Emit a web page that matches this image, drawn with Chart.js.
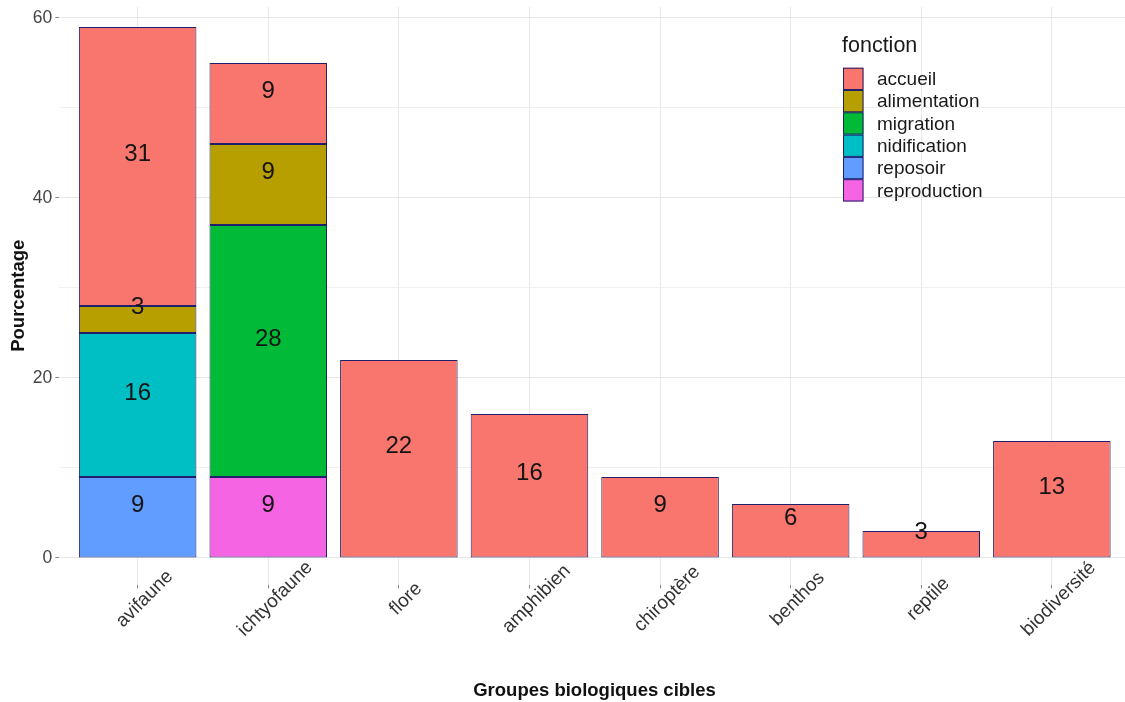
<!DOCTYPE html>
<html>
<head>
<meta charset="utf-8">
<script src="https://cdn.jsdelivr.net/npm/chart.js@4"></script>
<style>
  html, body { margin: 0; padding: 0; background: #ffffff; }
  #wrap { width: 1125px; height: 702px; }
</style>
</head>
<body>
<div id="wrap"><canvas id="c" width="1125" height="702"></canvas></div>
<script>
// ---------- data ----------
const CATEGORIES = ['avifaune', 'ichtyofaune', 'flore', 'amphibien', 'chiroptère', 'benthos', 'reptile', 'biodiversité'];
const FONCTIONS = ['accueil', 'alimentation', 'migration', 'nidification', 'reposoir', 'reproduction'];
const ACCUEIL      = [31, 9, 22, 16, 9, 6, 3, 13];
const ALIMENTATION = [3, 9, null, null, null, null, null, null];
const MIGRATION    = [null, 28, null, null, null, null, null, null];
const NIDIFICATION = [16, null, null, null, null, null, null, null];
const REPOSOIR     = [9, null, null, null, null, null, null, null];
const REPRODUCTION = [null, 9, null, null, null, null, null, null];
const Y_TICKS = [0, 20, 40, 60];
const Y_MINOR = [10, 30, 50];
const COLORS = ['#F8766D', '#B79F00', '#00BA38', '#00BFC4', '#619CFF', '#F564E3'];
const X_TITLE = 'Groupes biologiques cibles';
const Y_TITLE = 'Pourcentage';
const LEGEND_TITLE = 'fonction';

const SERIES = [ACCUEIL, ALIMENTATION, MIGRATION, NIDIFICATION, REPOSOIR, REPRODUCTION];

// ---------- layout/style ----------
const FONT = "'Liberation Sans', Arial, sans-serif";
const BORDER = '#1f1f6b';
const LEFT = 59.3, TOP = 7, BOTTOM = 584.5, CANVAS_W = 1125, CANVAS_H = 702;
const STEP_PX = 130.6;

// stacking: first dataset is bottom of stack -> reverse legend order
const datasets = FONCTIONS.map((name, k) => ({
  label: name,
  data: SERIES[k].map((v, i) => (v == null ? null : { x: i, y: v })).filter(d => d !== null),
  backgroundColor: COLORS[k],
  borderColor: BORDER,
  borderWidth: 1,
  borderSkipped: false,
  barPercentage: 0.9,
  categoryPercentage: 1.0
})).reverse();

const xMax = -0.6 + (CANVAS_W - LEFT) / STEP_PX;

const overlay = {
  id: 'overlay',
  afterDatasetsDraw(chart) {
    const ctx = chart.ctx;
    const xs = chart.scales.x;
    ctx.save();
    // value labels
    ctx.fillStyle = '#141414';
    ctx.font = '24px ' + FONT;
    ctx.textAlign = 'center';
    ctx.textBaseline = 'middle';
    chart.data.datasets.forEach((ds, di) => {
      const meta = chart.getDatasetMeta(di);
      meta.data.forEach((el, j) => {
        const v = ds.data[j].y;
        const cy = (el.y + el.base) / 2 - 12;
        ctx.fillText(String(v), el.x, cy);
      });
    });
    // x tick labels rotated 45
    ctx.fillStyle = '#333333';
    ctx.font = '19px ' + FONT;
    CATEGORIES.forEach((c, i) => {
      const px = xs.getPixelForValue(i);
      ctx.save();
      ctx.translate(px + 7, 599);
      ctx.rotate(-Math.PI / 4);
      ctx.textAlign = 'center';
      ctx.textBaseline = 'middle';
      ctx.fillText(c, 0, 0);
      ctx.restore();
    });
    // axis titles
    ctx.fillStyle = '#111111';
    ctx.font = 'bold 18.5px ' + FONT;
    ctx.textAlign = 'center';
    ctx.textBaseline = 'middle';
    ctx.fillText(X_TITLE, 594.5, 691);
    ctx.save();
    ctx.translate(19, (TOP + BOTTOM) / 2);
    ctx.rotate(-Math.PI / 2);
    ctx.fillText(Y_TITLE, 0, 0);
    ctx.restore();
    // legend
    ctx.textAlign = 'left';
    ctx.fillStyle = '#1a1a1a';
    ctx.font = '21.5px ' + FONT;
    ctx.fillText(LEGEND_TITLE, 842, 46);
    ctx.font = '19px ' + FONT;
    const kx = 843, ky = 67.7, kw = 20.5, kh = 22.3;
    FONCTIONS.forEach((name, k) => {
      const y = ky + k * kh;
      ctx.fillStyle = COLORS[k];
      ctx.fillRect(kx, y, kw, kh);
      ctx.strokeStyle = BORDER;
      ctx.lineWidth = 1;
      ctx.strokeRect(kx + 0.5, y + 0.5, kw - 1, kh - 1);
      ctx.fillStyle = '#1a1a1a';
      ctx.fillText(name, 877, y + kh / 2 + 1);
    });
    ctx.restore();
  }
};

new Chart(document.getElementById('c'), {
  type: 'bar',
  data: { datasets },
  options: {
    responsive: false,
    devicePixelRatio: 1,
    animation: false,
    layout: { padding: { top: TOP, right: 0, bottom: 0, left: 0 } },
    plugins: { legend: { display: false }, tooltip: { enabled: false } },
    scales: {
      x: {
        type: 'linear',
        stacked: true,
        offset: false,
        min: -0.6,
        max: xMax,
        afterBuildTicks(scale) { scale.ticks = CATEGORIES.map((_, i) => ({ value: i })); },
        afterFit(scale) { scale.height = CANVAS_H - BOTTOM; scale.paddingLeft = 0; scale.paddingRight = 0; },
        ticks: { display: false },
        grid: { offset: false, color: '#e9e9e9', lineWidth: 1, drawTicks: true, tickLength: 4, tickColor: '#8a8a8a' },
        border: { display: false }
      },
      y: {
        type: 'linear',
        stacked: true,
        min: -2.95,
        max: (558 - TOP) / 9,
        afterBuildTicks(scale) {
          scale.ticks = Y_TICKS.concat(Y_MINOR).sort((a, b) => a - b).map(v => ({ value: v }));
        },
        afterFit(scale) { scale.width = LEFT; scale.paddingTop = 0; scale.paddingBottom = 0; },
        ticks: {
          color: '#444444',
          font: { family: FONT, size: 17.5 },
          padding: 3,
          callback: (v) => (Y_TICKS.includes(v) ? String(v) : '')
        },
        grid: {
          color: (c) => (c.tick && Y_TICKS.includes(c.tick.value) ? '#e6e6e6' : '#f0f0f0'),
          lineWidth: 1,
          drawTicks: true,
          tickLength: 4,
          tickColor: (c) => (c.tick && Y_TICKS.includes(c.tick.value) ? '#8a8a8a' : 'rgba(0,0,0,0)')
        },
        border: { display: false }
      }
    }
  },
  plugins: [overlay]
});
</script>
</body>
</html>
